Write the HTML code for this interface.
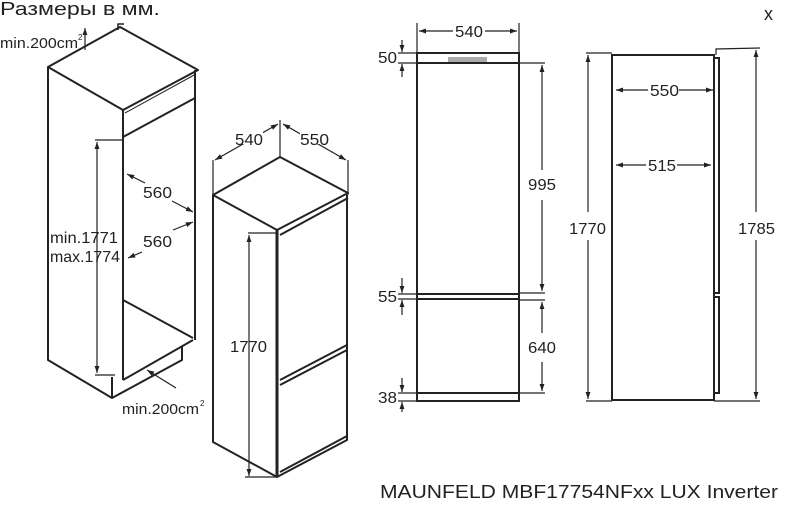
<!DOCTYPE html>
<html><head><meta charset="utf-8"><style>
html,body{margin:0;padding:0;background:#fff;}
svg{display:block;}
text{font-family:"Liberation Sans","DejaVu Sans",sans-serif;fill:#222;}
</style></head><body>
<svg width="785" height="505" viewBox="0 0 785 505" xmlns="http://www.w3.org/2000/svg">
<defs>
<marker id="a" viewBox="0 0 10 10" refX="10" refY="5" markerWidth="6" markerHeight="6" orient="auto-start-reverse"><path d="M0,1.5 L10,5 L0,8.5 z" fill="#222"/></marker>
</defs>
<text x="0" y="15" font-size="18" textLength="160" lengthAdjust="spacingAndGlyphs">Размеры в мм.</text>
<text x="764" y="20" font-size="18">x</text>

<!-- cabinet -->
<g stroke="#222" stroke-width="2" fill="none" stroke-linejoin="round">
<path d="M48,67 L120,27 L198,70 L123,110 Z"/>
<path d="M123,110 L123,380 M48,67 L48,360 L112,398 M195,70 L195,340 M123,137 L195,98 M123,300 L193,338 M123,380 L193,340 M112,377 L112,398 L182,360 L182,347"/>
<path d="M118,30 L118,24 L124,24" stroke-width="1.5"/>
<path d="M125,113 L196,74" stroke-width="1"/>
</g>
<g stroke="#222" stroke-width="1.2" fill="none">
<line x1="85" y1="50" x2="85" y2="28" marker-end="url(#a)"/>
<line x1="95" y1="140" x2="123" y2="140"/>
<line x1="95" y1="375" x2="115" y2="375"/>
<line x1="97" y1="142" x2="97" y2="373" marker-start="url(#a)" marker-end="url(#a)"/>
<line x1="145" y1="183" x2="127" y2="174" marker-end="url(#a)"/>
<line x1="172" y1="201" x2="193" y2="212" marker-end="url(#a)"/>
<line x1="173" y1="230" x2="193" y2="222" marker-end="url(#a)"/>
<line x1="142" y1="252" x2="128" y2="258" marker-end="url(#a)"/>
<line x1="176" y1="388" x2="147" y2="370" marker-end="url(#a)"/>
</g>
<text x="0" y="48" font-size="15" textLength="78" lengthAdjust="spacingAndGlyphs">min.200cm</text><text x="78" y="40" font-size="8">2</text>
<text x="143" y="198" font-size="16" textLength="29" lengthAdjust="spacingAndGlyphs">560</text>
<text x="143" y="247" font-size="16" textLength="29" lengthAdjust="spacingAndGlyphs">560</text>
<text x="50" y="243" font-size="16" textLength="68" lengthAdjust="spacingAndGlyphs">min.1771</text>
<text x="50" y="262" font-size="16" textLength="70" lengthAdjust="spacingAndGlyphs">max.1774</text>
<text x="122" y="414" font-size="15" textLength="77" lengthAdjust="spacingAndGlyphs">min.200cm</text><text x="200" y="406" font-size="8">2</text>

<!-- iso fridge -->
<g stroke="#222" stroke-width="2" fill="none" stroke-linejoin="round">
<path d="M213,195 L280,157 L348,193 L277,230 Z"/>
<path d="M213,195 L213,442 L277,477 L347,440 L347,195"/>
<path d="M277,230 L277,477" stroke-width="3"/>
<path d="M280,235 L348,198 M280,385 L347,350 M280,380 L347,345 M280,472 L347,436"/>
</g>
<g stroke="#222" stroke-width="1.2" fill="none">
<line x1="213" y1="160" x2="213" y2="195"/>
<line x1="280" y1="120" x2="280" y2="157"/>
<line x1="348" y1="160" x2="348" y2="195"/>
<line x1="215" y1="160" x2="278" y2="124" marker-start="url(#a)" marker-end="url(#a)"/>
<line x1="283" y1="124" x2="346" y2="160" marker-start="url(#a)" marker-end="url(#a)"/>
<line x1="248" y1="233" x2="277" y2="233"/>
<line x1="249" y1="235" x2="249" y2="476" marker-start="url(#a)" marker-end="url(#a)"/>
<line x1="245" y1="477" x2="277" y2="477"/>
</g>
<rect x="234" y="128" width="29" height="16" fill="#fff"/>
<rect x="300" y="128" width="29" height="16" fill="#fff"/>
<text x="235" y="145" font-size="16" textLength="28" lengthAdjust="spacingAndGlyphs">540</text>
<text x="300" y="145" font-size="16" textLength="29" lengthAdjust="spacingAndGlyphs">550</text>
<text x="230" y="352" font-size="16" textLength="37" lengthAdjust="spacingAndGlyphs">1770</text>

<!-- front view -->
<g stroke="#222" stroke-width="2" fill="none">
<rect x="417" y="53" width="102" height="348"/>
<path d="M417,63 L519,63 M417,294 L519,294 M417,299 L519,299 M417,393 L519,393"/>
</g>
<rect x="448" y="57" width="39" height="5" fill="#aaa"/>
<g stroke="#222" stroke-width="1.2" fill="none">
<line x1="417" y1="23" x2="417" y2="53"/><line x1="519" y1="23" x2="519" y2="53"/>
<line x1="419" y1="31" x2="453" y2="31" marker-start="url(#a)"/><line x1="485" y1="31" x2="517" y2="31" marker-end="url(#a)"/>
<line x1="398" y1="53" x2="417" y2="53"/><line x1="398" y1="63" x2="417" y2="63"/>
<line x1="402" y1="40" x2="402" y2="52" marker-end="url(#a)"/><line x1="402" y1="77" x2="402" y2="64" marker-end="url(#a)"/>
<line x1="519" y1="63" x2="545" y2="63"/><line x1="519" y1="293" x2="545" y2="293"/>
<line x1="542" y1="65" x2="542" y2="170" marker-start="url(#a)"/><line x1="542" y1="200" x2="542" y2="291" marker-end="url(#a)"/>
<line x1="398" y1="294" x2="417" y2="294"/><line x1="398" y1="299" x2="417" y2="299"/>
<line x1="402" y1="278" x2="402" y2="293" marker-end="url(#a)"/><line x1="402" y1="315" x2="402" y2="300" marker-end="url(#a)"/>
<line x1="519" y1="300" x2="545" y2="300"/><line x1="519" y1="393" x2="545" y2="393"/>
<line x1="542" y1="302" x2="542" y2="333" marker-start="url(#a)"/><line x1="542" y1="362" x2="542" y2="391" marker-end="url(#a)"/>
<line x1="398" y1="393" x2="417" y2="393"/><line x1="398" y1="401" x2="417" y2="401"/>
<line x1="402" y1="378" x2="402" y2="392" marker-end="url(#a)"/><line x1="402" y1="412" x2="402" y2="402" marker-end="url(#a)"/>
</g>
<text x="455" y="37" font-size="16" textLength="28" lengthAdjust="spacingAndGlyphs">540</text>
<text x="378" y="63" font-size="16" textLength="19" lengthAdjust="spacingAndGlyphs">50</text>
<text x="528" y="190" font-size="16" textLength="28" lengthAdjust="spacingAndGlyphs">995</text>
<text x="378" y="302" font-size="16" textLength="19" lengthAdjust="spacingAndGlyphs">55</text>
<text x="528" y="353" font-size="16" textLength="28" lengthAdjust="spacingAndGlyphs">640</text>
<text x="378" y="403" font-size="16" textLength="19" lengthAdjust="spacingAndGlyphs">38</text>

<!-- side view -->
<g stroke="#222" stroke-width="2" fill="none">
<rect x="612" y="55" width="102" height="345"/>
<path d="M714,58 L719,58 L719,293 L714,293 M714,297 L719,297 L719,393 L714,393"/>
</g>
<g stroke="#222" stroke-width="1.2" fill="none">
<line x1="586" y1="53" x2="612" y2="53"/><line x1="586" y1="401" x2="612" y2="401"/>
<line x1="588" y1="55" x2="588" y2="212" marker-start="url(#a)"/><line x1="588" y1="240" x2="588" y2="399" marker-end="url(#a)"/>
<path d="M716,55 L716,49 L760,48"/>
<line x1="714" y1="401" x2="760" y2="401"/>
<line x1="756" y1="50" x2="756" y2="212" marker-start="url(#a)"/><line x1="756" y1="240" x2="756" y2="399" marker-end="url(#a)"/>
<line x1="616" y1="90" x2="648" y2="90" marker-start="url(#a)"/><line x1="679" y1="90" x2="713" y2="90" marker-end="url(#a)"/>
<line x1="616" y1="165" x2="646" y2="165" marker-start="url(#a)"/><line x1="677" y1="165" x2="711" y2="165" marker-end="url(#a)"/>
</g>
<text x="569" y="234" font-size="16" textLength="37" lengthAdjust="spacingAndGlyphs">1770</text>
<text x="738" y="234" font-size="16" textLength="37" lengthAdjust="spacingAndGlyphs">1785</text>
<text x="650" y="96" font-size="16" textLength="29" lengthAdjust="spacingAndGlyphs">550</text>
<text x="648" y="171" font-size="16" textLength="28" lengthAdjust="spacingAndGlyphs">515</text>

<text x="380" y="498" font-size="18" textLength="398" lengthAdjust="spacingAndGlyphs">MAUNFELD MBF17754NFxx LUX Inverter</text>
</svg>
</body></html>
